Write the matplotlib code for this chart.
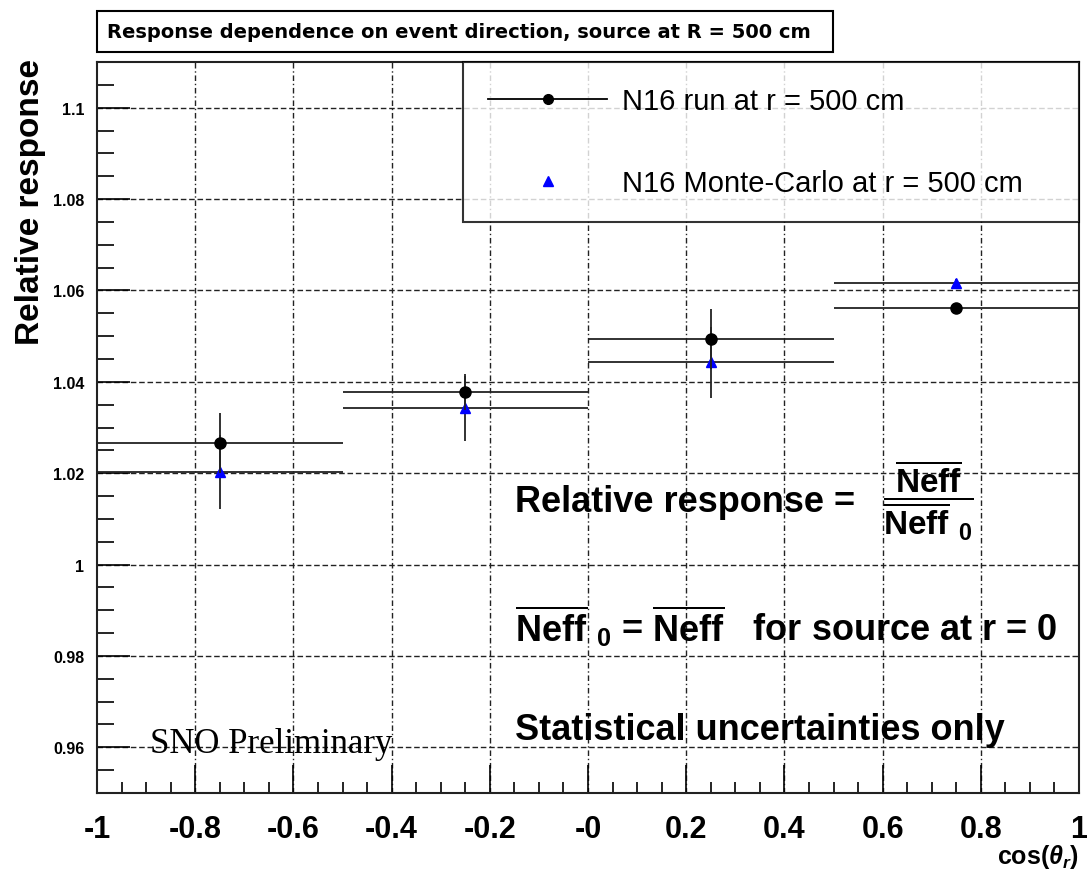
import numpy as np
import matplotlib
matplotlib.use("Agg")
import matplotlib.pyplot as plt
from matplotlib.lines import Line2D
from matplotlib.patches import Rectangle
from matplotlib.ticker import MultipleLocator, FixedLocator, FixedFormatter

plt.rcParams['font.family'] = ['Liberation Sans', 'DejaVu Sans']
plt.rcParams['mathtext.fontset'] = 'custom'
plt.rcParams['mathtext.rm'] = 'Liberation Sans:bold'
plt.rcParams['mathtext.bf'] = 'Liberation Sans:bold'
plt.rcParams['mathtext.it'] = 'Liberation Sans:bold:italic'

# cos(theta_r) bins
bin_centers = [-0.75, -0.25, 0.25, 0.75]
bin_halfwidth = [0.25, 0.25, 0.25, 0.25]

# N16 data run at r = 500 cm
run_resp = [1.0266, 1.0378, 1.0494, 1.0562]
run_err = [0.0065, 0.0040, 0.0065, 0.0008]

# N16 Monte-Carlo at r = 500 cm
mc_resp = [1.0202, 1.0342, 1.0443, 1.0617]
mc_err = [0.0081, 0.0071, 0.0078, 0.0008]

xtick_vals = [-1, -0.8, -0.6, -0.4, -0.2, 0, 0.2, 0.4, 0.6, 0.8, 1]
xtick_labels = ['-1', '-0.8', '-0.6', '-0.4', '-0.2', '-0', '0.2', '0.4', '0.6', '0.8', '1']
ytick_vals = [0.96, 0.98, 1.0, 1.02, 1.04, 1.06, 1.08, 1.1]
ytick_labels = ['0.96', '0.98', '1', '1.02', '1.04', '1.06', '1.08', '1.1']

fig = plt.figure(figsize=(10.87, 8.70), dpi=100)
ax = fig.add_axes([97 / 1087, 76 / 870, 982 / 1087, 731 / 870])

ax.set_xlim(-1, 1)
ax.set_ylim(0.95, 1.11)

# grid
for xv in xtick_vals[1:-1]:
    ax.axvline(xv, color='#222222', lw=1.0, ls=(0, (4, 2, 1, 2)), zorder=1)
for yv in ytick_vals:
    ax.axhline(yv, color='#222222', lw=1.0, ls=(0, (4, 2)), zorder=1)

ax.errorbar(bin_centers, mc_resp, xerr=bin_halfwidth, yerr=mc_err, fmt='^',
            color='blue', ecolor='#222222', elinewidth=1.3, capsize=0,
            markersize=7, zorder=3)
ax.errorbar(bin_centers, run_resp, xerr=bin_halfwidth, yerr=run_err, fmt='o',
            color='black', ecolor='#222222', elinewidth=1.3, capsize=0,
            markersize=8, zorder=4)

ax.xaxis.set_major_locator(FixedLocator(xtick_vals))
ax.xaxis.set_major_formatter(FixedFormatter(xtick_labels))
ax.xaxis.set_minor_locator(MultipleLocator(0.05))
ax.yaxis.set_major_locator(FixedLocator(ytick_vals))
ax.yaxis.set_major_formatter(FixedFormatter(ytick_labels))
ax.yaxis.set_minor_locator(MultipleLocator(0.005))

ax.tick_params(axis='x', which='major', direction='in', length=20, width=1.2,
               labelsize=22, pad=15, top=False)
ax.tick_params(axis='x', which='minor', direction='in', length=8, width=1.2, top=False)
ax.tick_params(axis='y', which='major', direction='in', length=24, width=1.2,
               labelsize=11.5, pad=9, right=False)
ax.tick_params(axis='y', which='minor', direction='in', length=12, width=1.2, right=False)
for lab in ax.get_xticklabels() + ax.get_yticklabels():
    lab.set_fontweight('bold')

for sp in ax.spines.values():
    sp.set_linewidth(1.5)
    sp.set_color('#222222')

ax.set_ylabel('Relative response', fontsize=24, fontweight='bold', loc='top')
ax.yaxis.set_label_coords(-0.052, 1.005)
ax.set_xlabel(r'cos($\theta_r$)', fontsize=18, fontweight='bold', loc='right')
ax.xaxis.set_label_coords(1.0, -0.067)

# legend
handles = [
    Line2D([0], [0], color='black', lw=1.3, marker='o', markersize=7),
    Line2D([0], [0], color='blue', lw=0, marker='^', markersize=7),
]
labels = ['N16 run at r = 500 cm', 'N16 Monte-Carlo at r = 500 cm']
leg = ax.legend(handles, labels, loc='upper left', mode='expand',
                bbox_to_anchor=(0.3727, 0.0, 0.6273, 1.0),
                fontsize=21, frameon=True, fancybox=False, borderpad=0.85,
                labelspacing=1.85, handlelength=4.1, handletextpad=0.5,
                borderaxespad=0.0)
leg.get_frame().set_edgecolor('black')
leg.get_frame().set_linewidth(1.5)
leg.set_zorder(5)

# annotations
txt_kw = dict(fontsize=26, fontweight='bold', va='center', ha='left', zorder=6)
ax.text(-0.148, 1.0137, 'Relative response =', **txt_kw)
ax.text(0.600, 1.0142, r'$\dfrac{\overline{\mathrm{Neff}}}{\overline{\mathrm{Neff}}\ _{0}}$',
        fontsize=24, va='center', ha='left', zorder=6)
ax.text(-0.148, 0.9867,
        r'$\overline{\mathrm{Neff}}\ _{0}$ = $\overline{\mathrm{Neff}}$   for source at r = 0',
        **txt_kw)
ax.text(-0.148, 0.9640, 'Statistical uncertainties only', **txt_kw)
ax.text(-0.892, 0.9608, 'SNO Preliminary', fontsize=25, family='Liberation Serif',
        va='center', ha='left', zorder=6)

# title box
fig.add_artist(Rectangle((97 / 1087, 1 - 53 / 870), 736 / 1087, 41 / 870,
                         transform=fig.transFigure, facecolor='white',
                         edgecolor='black', linewidth=1.5))
fig.text(107 / 1087, 1 - 33 / 870,
         'Response dependence on event direction, source at R = 500 cm',
         fontsize=14, fontweight='bold', family='DejaVu Sans',
         va='center', ha='left')

fig.savefig('out.png', dpi=100)
